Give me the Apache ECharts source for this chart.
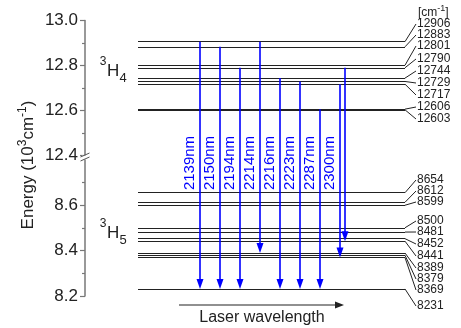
<!DOCTYPE html>
<html>
<head>
<meta charset="utf-8">
<script src="https://cdn.jsdelivr.net/npm/echarts@6.0.0/dist/echarts.min.js"></script>
<style>
  html, body { margin: 0; padding: 0; background: #fff; }
  #chart { width: 461px; height: 328px; }
</style>
</head>
<body>
<div id="chart"></div>
<script>
// Stark levels (cm-1)
const levels3H4 = [12906, 12883, 12801, 12790, 12744, 12729, 12717, 12606, 12603];
const levels3H5 = [8654, 8612, 8599, 8500, 8481, 8452, 8441, 8389, 8379, 8369, 8231];

// laser transitions 3H4 -> 3H5
const transFrom = [12906, 12883, 12790, 12906, 12744, 12729, 12606, 12717, 12790];
const transTo = [8231, 8231, 8231, 8389, 8231, 8231, 8231, 8369, 8441];
const transLabels = ['2139nm', '2150nm', '2194nm', '2214nm', '2216nm', '2223nm', '2287nm', '2300nm', ''];

// axis ticks (10^3 cm-1)
const upperTicks = [12.4, 12.6, 12.8, 13.0];
const lowerTicks = [8.2, 8.4, 8.6];

// hand placed label column on the right (pixels), like in the figure
const labelYUpper = [24, 35, 46, 59, 71, 83, 95, 107, 119];
const labelYLower = [180, 191, 202, 221, 232, 244, 256, 268, 279, 290, 306];

const font = 'Arial, "Liberation Sans", sans-serif';
const ink = '#222';
const blue = '#0000ff';
const X_MIN = -5.75, X_MAX = 10.25, LEVEL_X0 = -3.1;

const chart = echarts.init(document.getElementById('chart'));

function yAxisCfg(grid, min, max, ticks) {
  return {
    gridIndex: grid, type: 'value', min: min, max: max, interval: 0.2,
    axisLine: { show: true, onZero: false, lineStyle: { color: '#777', width: 1.5 } },
    axisTick: { show: true, length: 5, customValues: ticks, lineStyle: { color: '#777', width: 1.2 } },
    minorTick: { show: true, splitNumber: 2, length: 3, lineStyle: { color: '#777', width: 1.2 } },
    axisLabel: {
      customValues: ticks, fontSize: 17, color: ink, fontFamily: font, margin: 7,
      formatter: v => v.toFixed(1)
    },
    splitLine: { show: false }
  };
}

function levelSeries(grid, levels) {
  return {
    type: 'lines', coordinateSystem: 'cartesian2d', xAxisIndex: grid, yAxisIndex: grid,
    silent: true, animation: false,
    lineStyle: { color: ink, width: 1.2, opacity: 1 },
    data: levels.map(e => ({ coords: [[LEVEL_X0, e / 1000], [X_MAX, e / 1000]] }))
  };
}

const option = {
  animation: false,
  grid: [
    { left: 85, top: 20.5, width: 320, height: 135 },
    { left: 85, top: 159.5, width: 320, height: 136.5 }
  ],
  xAxis: [
    { gridIndex: 0, type: 'value', min: X_MIN, max: X_MAX, show: false },
    { gridIndex: 1, type: 'value', min: X_MIN, max: X_MAX, show: false }
  ],
  yAxis: [
    yAxisCfg(0, 12.4, 13.0, upperTicks),
    yAxisCfg(1, 8.2, 8.8, lowerTicks)
  ],
  series: [levelSeries(0, levels3H4), levelSeries(1, levels3H5)]
};
chart.setOption(option);

// everything below is placed through the axes of the two grids
const toPx = (g, x, e) => chart.convertToPixel({ gridIndex: g }, [x, e / 1000]);
const g = [];

// transitions
transFrom.forEach((e0, i) => {
  const col = transLabels[i] ? i : i - 0.75;
  const p0 = toPx(0, col, e0);
  const p1 = toPx(1, col, transTo[i]);
  const x = p0[0];
  g.push({ type: 'line', shape: { x1: x, y1: p0[1], x2: x, y2: p1[1] - 8 }, style: { stroke: blue, lineWidth: 1.6 }, z: 10 });
  g.push({ type: 'polygon', shape: { points: [[x - 3.5, p1[1] - 10], [x + 3.5, p1[1] - 10], [x, p1[1]]] }, style: { fill: blue }, z: 10 });
  if (transLabels[i]) {
    g.push({
      type: 'text', x: x - 10.5, y: 163, rotation: Math.PI / 2, z: 10,
      style: { text: transLabels[i], fontSize: 15, fontFamily: font, fill: blue, align: 'center', verticalAlign: 'middle' }
    });
  }
});

// level labels with leader lines
function levelLabels(grid, levels, ys) {
  levels.forEach((e, i) => {
    const p = toPx(grid, X_MAX, e);
    g.push({ type: 'line', shape: { x1: p[0], y1: p[1], x2: p[0] + 11, y2: ys[i] }, style: { stroke: ink, lineWidth: 1 } });
    g.push({
      type: 'text', x: p[0] + 12, y: ys[i],
      style: { text: String(e), fontSize: 12, fontFamily: font, fill: ink, align: 'left', verticalAlign: 'middle' }
    });
  });
}
levelLabels(0, levels3H4, labelYUpper);
levelLabels(1, levels3H5, labelYLower);

// term symbols
function term(x, y, sub) {
  g.push({ type: 'text', x: x - 4, y: y - 9, style: { text: '3', fontSize: 12, fontFamily: font, fill: ink, align: 'center', verticalAlign: 'middle' } });
  g.push({ type: 'text', x: x, y: y, style: { text: 'H', fontSize: 17, fontFamily: font, fill: ink, align: 'left', verticalAlign: 'middle' } });
  g.push({ type: 'text', x: x + 12.5, y: y + 7, style: { text: sub, fontSize: 13, fontFamily: font, fill: ink, align: 'left', verticalAlign: 'middle' } });
}
term(107, 71, '4');
term(107, 233, '5');

// unit header
g.push({
  type: 'text', x: 418, y: 13,
  style: {
    text: '[cm{sup|-1}]', fontSize: 12, fontFamily: font, fill: ink, align: 'left', verticalAlign: 'middle',
    rich: { sup: { fontSize: 9, fontFamily: font, fill: ink, padding: [0, 0, 9, 0] } }
  }
});

// y axis title
g.push({
  type: 'text', x: 28, y: 165, rotation: Math.PI / 2,
  style: {
    text: 'Energy (10{sup|3}cm{sup|-1})', fontSize: 17, fontFamily: font, fill: ink, align: 'center', verticalAlign: 'middle',
    rich: { sup: { fontSize: 12, fontFamily: font, fill: ink, padding: [0, 0, 11, 0] } }
  }
});

// axis break
g.push({ type: 'rect', shape: { x: 82, y: 155.5, width: 6, height: 4 }, style: { fill: '#fff' }, z: 20 });
g.push({ type: 'line', shape: { x1: 80.5, y1: 157, x2: 89.5, y2: 153 }, style: { stroke: '#555', lineWidth: 1 }, z: 21 });
g.push({ type: 'line', shape: { x1: 80.5, y1: 161, x2: 89.5, y2: 157 }, style: { stroke: '#555', lineWidth: 1 }, z: 21 });

// laser wavelength arrow
g.push({ type: 'line', shape: { x1: 179, y1: 305, x2: 336, y2: 305 }, style: { stroke: ink, lineWidth: 1.2 } });
g.push({ type: 'polygon', shape: { points: [[335, 301.5], [344, 305], [335, 308.5]] }, style: { fill: ink } });
g.push({
  type: 'text', x: 262, y: 318,
  style: { text: 'Laser wavelength', fontSize: 16, fontFamily: font, fill: ink, align: 'center', verticalAlign: 'middle' }
});

chart.setOption({ graphic: g });
</script>
</body>
</html>
